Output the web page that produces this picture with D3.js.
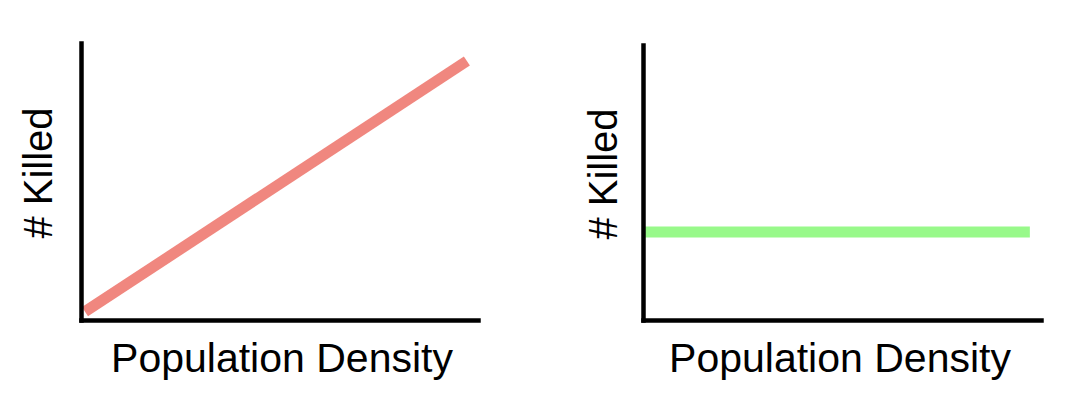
<!DOCTYPE html>
<html>
<head>
<meta charset="utf-8">
<script src="https://cdn.jsdelivr.net/npm/d3@7"></script>
<style>
  html, body { margin: 0; padding: 0; background: #fff; }
  svg { display: block; }
  text { font-family: "Liberation Sans", Arial, Helvetica, sans-serif; fill: #000; }
</style>
</head>
<body>
<svg id="chart" width="1066" height="408"></svg>
<script>
// Data (conceptual units 0..10 on both axes)
const xLabels = ["Population Density", "Population Density"];
const yLabels = ["# Killed", "# Killed"];
const leftX = [0.1, 9.72];
const leftY = [0.3, 9.35];
const rightX = [0.05, 9.72];
const rightY = [3.2, 3.2];
const seriesColors = ["#f0877f", "#98f98a"];

const svg = d3.select("#chart");

const panels = [
  { x0: 81, x1: 478, y0: 320, y1: 43, xs: leftX, ys: leftY, color: seriesColors[0], xl: xLabels[0], yl: yLabels[0], ylx: 52, yly: 173, xlx: 282 },
  { x0: 643, x1: 1041, y0: 320, y1: 45, xs: rightX, ys: rightY, color: seriesColors[1], xl: xLabels[1], yl: yLabels[1], ylx: 617, yly: 174, xlx: 840 }
];

panels.forEach(p => {
  const x = d3.scaleLinear().domain([0, 10]).range([p.x0, p.x1]);
  const y = d3.scaleLinear().domain([0, 10]).range([p.y0, p.y1]);
  const g = svg.append("g");

  const pts = p.xs.map((v, i) => [v, p.ys[i]]);
  g.append("path")
    .datum(pts)
    .attr("fill", "none")
    .attr("stroke", p.color)
    .attr("stroke-width", 11)
    .attr("stroke-linecap", "butt")
    .attr("d", d3.line().x(d => x(d[0])).y(d => y(d[1])));

  const xAxis = d3.axisBottom(x).tickValues([]).tickSizeOuter(0);
  const yAxis = d3.axisLeft(y).tickValues([]).tickSizeOuter(0);
  const gx = g.append("g").attr("transform", `translate(0,${p.y0})`).call(xAxis);
  const gy = g.append("g").attr("transform", `translate(${p.x0},0)`).call(yAxis);
  [gx, gy].forEach(a => a.select(".domain").attr("stroke", "#000").attr("stroke-width", 4.5).attr("stroke-linecap", "square"));

  g.append("text")
    .attr("x", p.xlx).attr("y", 372)
    .attr("text-anchor", "middle")
    .attr("font-size", 41)
    .text(p.xl);

  g.append("text")
    .attr("transform", `translate(${p.ylx},${p.yly}) rotate(-90)`)
    .attr("text-anchor", "middle")
    .attr("font-size", 40)
    .text(p.yl);
});
</script>
</body>
</html>
